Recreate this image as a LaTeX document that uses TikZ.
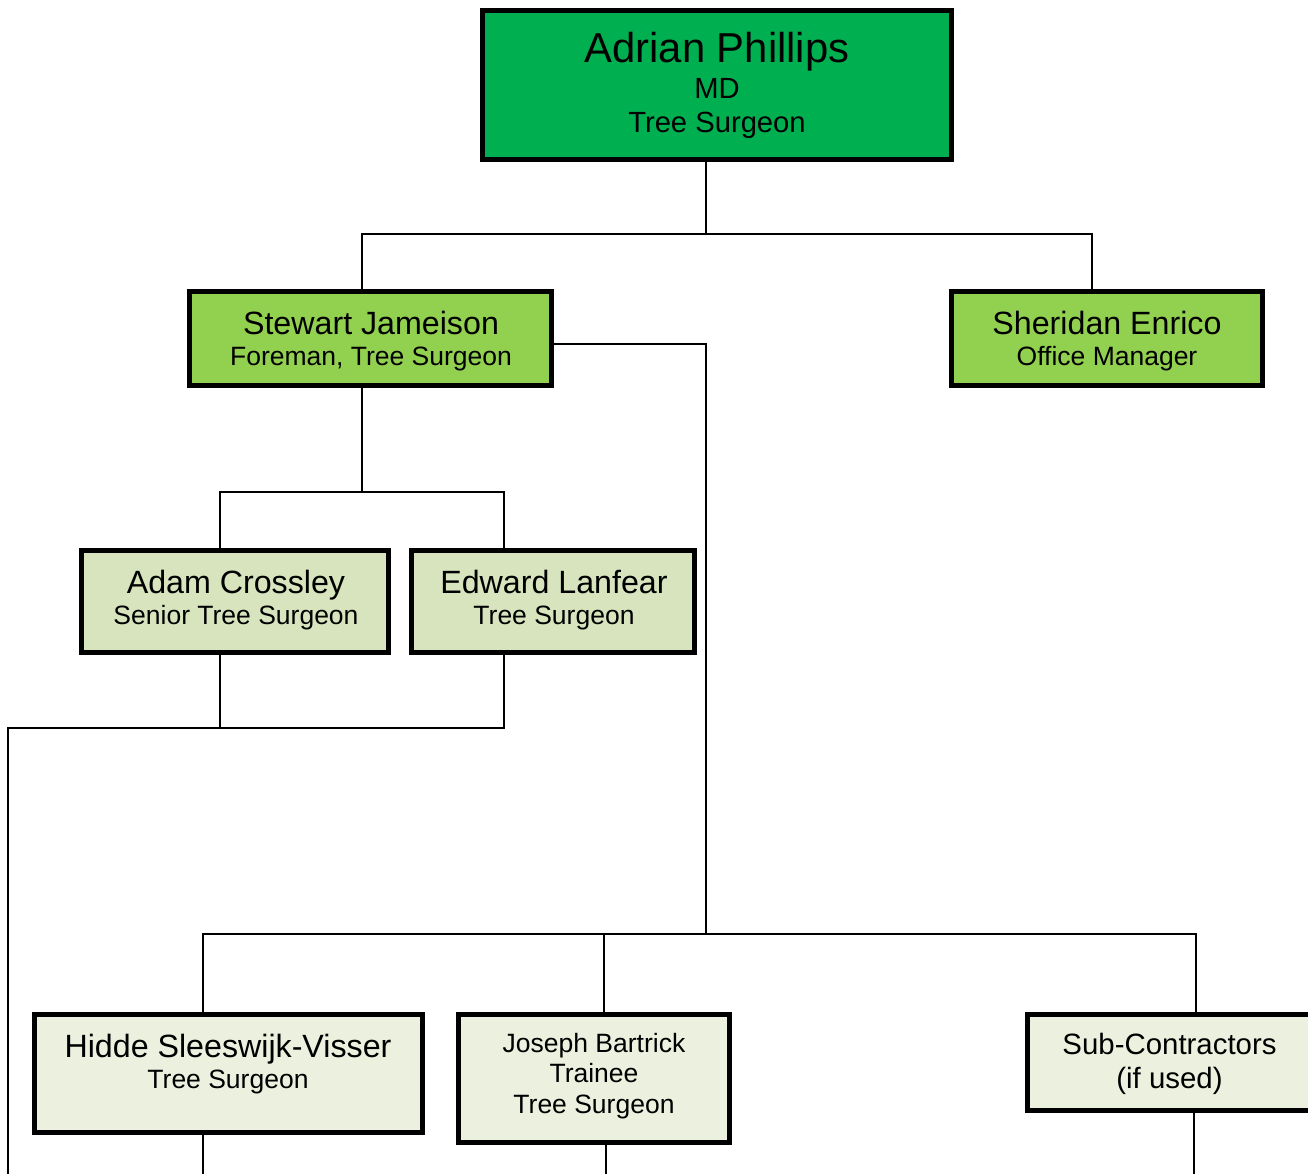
\documentclass[tikz,border=0pt]{standalone}
\usepackage{fontspec}
\setmainfont{Liberation Sans}
\definecolor{topgreen}{HTML}{00B050}
\definecolor{midgreen}{HTML}{92D050}
\definecolor{lightgreen}{HTML}{D7E4BD}
\definecolor{palegreen}{HTML}{EBF1DE}
\tikzset{
  orgbox/.style={draw=black,line width=5pt,rectangle,inner sep=0pt,outer sep=0pt},
  conn/.style={line width=1.6pt,black},
  txtbase/.style={anchor=base,inner sep=0pt},
  bignametxt/.style={txtbase,font=\fontsize{41.8}{48}\selectfont},
  bigsubtxt/.style={txtbase,font=\fontsize{29.2}{34}\selectfont},
  nametxt/.style={txtbase,font=\fontsize{32.2}{37}\selectfont},
  subtxt/.style={txtbase,font=\fontsize{26.5}{31}\selectfont},
  midtxt/.style={txtbase,font=\fontsize{29.4}{34}\selectfont}}
\begin{document}
\begin{tikzpicture}[x=1pt,y=-1pt]
\useasboundingbox (0,0) rectangle (1308,1174);
% boxes
\node[orgbox,fill=topgreen,minimum width=469pt,minimum height=149pt] (adrian) at (717,85) {};
\node[orgbox,fill=midgreen,minimum width=362pt,minimum height=94pt] (stewart) at (370.5,338.5) {};
\node[orgbox,fill=midgreen,minimum width=311pt,minimum height=94pt] (sheridan) at (1107,338.5) {};
\node[orgbox,fill=lightgreen,minimum width=307pt,minimum height=102pt] (adam) at (235,601.5) {};
\node[orgbox,fill=lightgreen,minimum width=283pt,minimum height=102pt] (edward) at (553,601.5) {};
\node[orgbox,fill=palegreen,minimum width=388pt,minimum height=118pt] (hidde) at (228.5,1073.5) {};
\node[orgbox,fill=palegreen,minimum width=271pt,minimum height=128pt] (joseph) at (594,1078.5) {};
\node[orgbox,fill=palegreen,minimum width=282.5pt,minimum height=96pt] (subc) at (1168.75,1062.5) {};
% texts
\node[bignametxt] (adrianA) at (717,63) {Adrian Phillips};
\node[bigsubtxt] (adrianB) at (717,99) {MD};
\node[bigsubtxt] (adrianC) at (717,133) {Tree Surgeon};
\node[nametxt] (stewartA) at (371,334) {Stewart Jameison};
\node[subtxt] (stewartB) at (371,365.5) {Foreman, Tree Surgeon};
\node[nametxt] (sheridanA) at (1107,334) {Sheridan Enrico};
\node[subtxt] (sheridanB) at (1107,365.5) {Office Manager};
\node[nametxt] (adamA) at (236,593) {Adam Crossley};
\node[subtxt] (adamB) at (236,624.5) {Senior Tree Surgeon};
\node[nametxt] (edwardA) at (554,593) {Edward Lanfear};
\node[subtxt] (edwardB) at (554,624.5) {Tree Surgeon};
\node[nametxt] (hiddeA) at (228,1057) {Hidde Sleeswijk-Visser};
\node[subtxt] (hiddeB) at (228,1088) {Tree Surgeon};
\node[subtxt] (josephA) at (594,1052) {Joseph Bartrick};
\node[subtxt] (josephB) at (594,1082) {Trainee};
\node[subtxt] (josephC) at (594,1113) {Tree Surgeon};
\node[midtxt] (subcA) at (1169.5,1054) {Sub-Contractors};
\node[midtxt] (subcB) at (1169.5,1088) {(if used)};
% junction coordinates
\coordinate (t1) at (706,234);
\coordinate (xs) at (362,234);
\coordinate (xsh) at (1092,234);
\coordinate (t2) at (706,344);
\coordinate (t3) at (706,934);
\coordinate (t4) at (362,492);
\coordinate (a1) at (220,492);
\coordinate (e1) at (504,492);
\coordinate (a2) at (220,728);
\coordinate (e2) at (504,728);
\coordinate (l1) at (8,728);
\coordinate (l2) at (8,1174);
\coordinate (h1) at (203,934);
\coordinate (j1) at (604,934);
\coordinate (s1) at (1196,934);
\coordinate (h2) at (203,1174);
\coordinate (j2) at (606,1174);
\coordinate (s2) at (1194,1174);
% connectors
\draw[conn] (adrian.south -| t1) -- (t1);
\draw[conn] (stewart.north -| xs) -- (xs) -- (xsh) -- (sheridan.north -| xsh);
\draw[conn] (stewart.east |- t2) -- (t2) -- (t3);
\draw[conn] (stewart.south -| t4) -- (t4);
\draw[conn] (adam.north -| a1) -- (a1) -- (e1) -- (edward.north -| e1);
\draw[conn] (adam.south -| a2) -- (a2);
\draw[conn] (edward.south -| e2) -- (e2) -- (l1) -- (l2);
\draw[conn] (hidde.north -| h1) -- (h1) -- (s1) -- (subc.north -| s1);
\draw[conn] (j1) -- (joseph.north -| j1);
\draw[conn] (hidde.south -| h2) -- (h2);
\draw[conn] (joseph.south -| j2) -- (j2);
\draw[conn] (subc.south -| s2) -- (s2);
\end{tikzpicture}
\end{document}
